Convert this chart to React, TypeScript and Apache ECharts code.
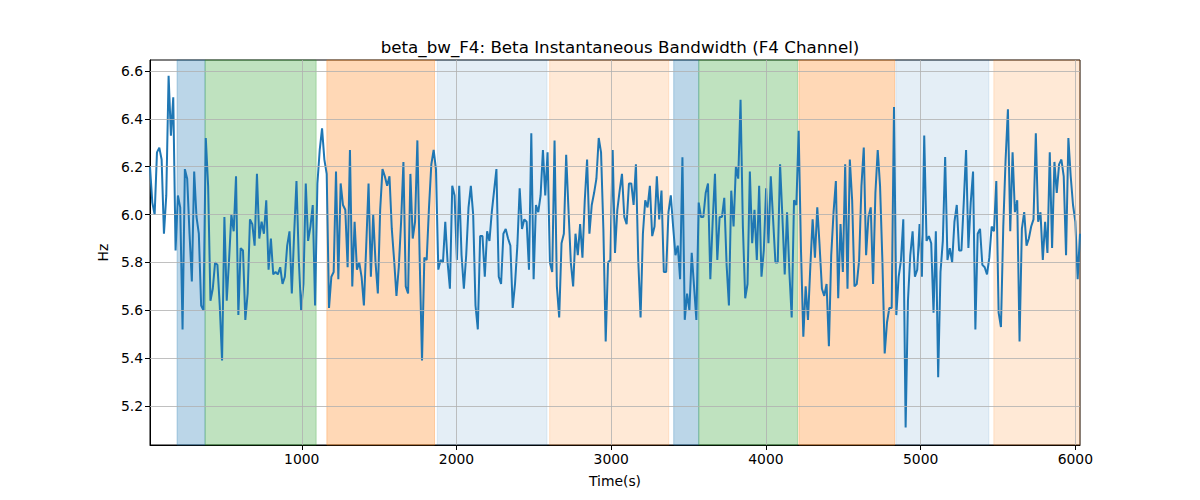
import React, { useEffect, useRef } from "react";
import * as echarts from "echarts";

const TITLE = "beta_bw_F4: Beta Instantaneous Bandwidth (F4 Channel)";
const TIME_START = 19;
const TIME_END = 6030;
const Y_MIN = 5.037;
const Y_MAX = 6.646;

const xTicks = [1000, 2000, 3000, 4000, 5000, 6000];
const yTicks = [5.2, 5.4, 5.6, 5.8, 6.0, 6.2, 6.4, 6.6];

const bandStarts = [194, 375, 1162, 1876, 2602, 3404, 3566, 4213, 4840, 5473];
const bandEnds = [375, 1093, 1858, 2585, 3372, 3566, 4204, 4832, 5441, 6030];
const bandColors = [
  "rgba(31,119,180,0.3)",
  "rgba(44,160,44,0.3)",
  "rgba(255,127,14,0.3)",
  "rgba(31,119,180,0.12)",
  "rgba(255,127,14,0.17)",
  "rgba(31,119,180,0.3)",
  "rgba(44,160,44,0.3)",
  "rgba(255,127,14,0.3)",
  "rgba(31,119,180,0.12)",
  "rgba(255,127,14,0.17)",
];

const bandwidth = [
  6.2, 6.05, 6.0, 6.26, 6.28, 6.23, 5.92, 6.08, 6.58, 6.33,
  6.49, 5.85, 6.08, 6.03, 5.52, 6.19, 6.15, 5.92, 5.72, 6.18,
  5.99, 5.92, 5.62, 5.6, 6.32, 6.12, 5.64, 5.69, 5.8, 5.79,
  5.62, 5.39, 5.99, 5.64, 5.81, 6.0, 5.93, 6.16, 5.58, 5.86,
  5.85, 5.56, 5.67, 5.98, 5.96, 5.87, 6.17, 5.9, 5.97, 5.92,
  6.06, 5.77, 5.9, 5.75, 5.76, 5.75, 5.78, 5.71, 5.74, 5.87,
  5.93, 5.67, 5.92, 6.14, 5.81, 5.6, 5.71, 6.13, 5.89, 5.95,
  6.04, 5.62, 6.13, 6.27, 6.36, 6.23, 6.17, 5.61, 5.74, 5.76,
  6.18, 5.73, 6.13, 6.04, 6.02, 5.78, 6.27, 5.7, 5.97, 5.77,
  5.8, 5.74, 5.62, 5.87, 6.13, 5.74, 6.0, 5.8, 5.67, 6.02,
  6.19, 6.16, 6.12, 6.16, 5.94, 5.81, 5.66, 5.78, 5.97, 6.22,
  5.7, 5.67, 6.17, 5.9, 5.97, 6.31, 5.81, 5.39, 5.82, 5.81,
  6.03, 6.21, 6.27, 6.19, 5.77, 5.81, 5.8, 5.97, 5.8, 5.69,
  6.12, 6.08, 5.81, 6.12, 5.83, 5.69, 5.83, 6.03, 6.12, 6.0,
  5.62, 5.52, 5.91, 5.91, 5.74, 5.93, 5.89, 6.01, 6.1, 6.19,
  5.74, 5.71, 5.92, 5.94, 5.9, 5.87, 5.61, 5.71, 5.87, 6.11,
  5.94, 5.98, 5.97, 5.77, 6.34, 5.73, 6.04, 6.01, 6.08, 6.27,
  6.08, 6.26, 5.8, 5.76, 6.31, 5.7, 5.57, 5.88, 5.92, 6.25,
  6.02, 5.8, 5.7, 5.92, 5.83, 5.96, 5.82, 6.06, 6.23, 5.92,
  6.04, 6.09, 6.15, 6.32, 6.26, 5.94, 5.47, 5.8, 5.81, 6.27,
  5.84, 6.02, 6.1, 6.17, 5.99, 5.96, 6.13, 6.13, 6.04, 6.21,
  5.81, 5.57, 5.92, 6.06, 6.03, 6.12, 5.91, 5.95, 6.16, 5.98,
  6.1, 5.76, 5.76, 6.01, 6.08, 5.95, 5.83, 5.87, 5.73, 6.24,
  5.56, 5.67, 5.6, 5.84, 5.7, 5.56, 6.05, 5.99, 5.99, 6.09,
  6.13, 5.73, 5.97, 6.17, 5.81, 5.99, 5.99, 6.07, 5.79, 5.62,
  6.1, 5.95, 6.2, 6.15, 6.48, 5.95, 5.65, 5.71, 6.18, 5.88,
  6.02, 5.81, 6.12, 5.74, 5.85, 6.11, 5.88, 6.16, 5.98, 5.8,
  5.8, 6.21, 5.99, 5.75, 6.01, 5.76, 5.57, 6.06, 6.04, 6.35,
  5.85, 5.49, 5.7, 5.56, 5.78, 5.98, 5.82, 6.03, 5.87, 5.69,
  5.66, 5.71, 5.45, 5.83, 6.01, 6.14, 5.65, 5.96, 5.76, 6.21,
  5.69, 6.23, 6.06, 5.7, 5.71, 5.81, 6.12, 6.28, 5.83, 5.99,
  6.03, 5.71, 6.09, 6.27, 6.12, 5.81, 5.42, 5.55, 5.61, 5.61,
  6.45, 5.58, 5.74, 5.81, 5.98, 5.11, 5.64, 5.83, 5.93, 5.74,
  5.77, 5.96, 5.74, 6.33, 5.89, 5.91, 5.88, 5.59, 5.93, 5.32,
  5.76, 5.89, 6.24, 5.81, 5.86, 5.8, 5.97, 6.04, 5.85, 5.85,
  6.05, 6.27, 5.86, 6.05, 6.18, 5.52, 5.92, 5.94, 5.79, 5.78,
  5.75, 5.82, 5.95, 5.93, 6.14, 5.59, 5.53, 5.95, 6.23, 6.44,
  5.93, 6.26, 6.01, 6.06, 5.47, 5.94, 6.01, 5.87, 5.9, 5.95,
  5.98, 6.34, 5.97, 6.01, 5.81, 5.97, 5.84, 6.26, 5.86, 6.22,
  6.09, 6.21, 6.23, 6.16, 5.83, 6.32, 6.16, 6.04, 5.97, 5.73,
  5.92,
];

const FONT = "DejaVu Sans";

export default function App() {
  const ref = useRef<HTMLDivElement>(null);

  useEffect(() => {
    if (!ref.current) return;
    const chart = echarts.init(ref.current, undefined, { renderer: "svg" });
    const step = (TIME_END - TIME_START) / (bandwidth.length - 1);
    const lineData = bandwidth.map((v, i) => [TIME_START + i * step, v]);

    const areas = bandStarts.map((s, i) => [
      {
        xAxis: s,
        itemStyle: { color: bandColors[i], borderColor: bandColors[i], borderWidth: 1 },
      },
      { xAxis: bandEnds[i] },
    ]);

    const gridLines = [
      ...yTicks.map((v) => ({ yAxis: v })),
      ...xTicks.map((v) => ({ xAxis: v })),
    ];

    chart.setOption({
      animation: false,
      title: {
        text: TITLE,
        left: 615,
        textAlign: "center",
        top: 33,
        textStyle: { fontFamily: FONT, fontSize: 16.7, fontWeight: "normal", color: "#000" },
      },
      grid: {
        left: 150,
        right: 120,
        top: 60,
        bottom: 55,
        show: true,
        borderColor: "#000",
        borderWidth: 1,
        backgroundColor: "transparent",
      },
      xAxis: {
        type: "value",
        min: TIME_START,
        max: TIME_END,
        name: "Time(s)",
        nameLocation: "middle",
        nameGap: 29,
        nameTextStyle: { fontFamily: FONT, fontSize: 13.9, color: "#000" },
        axisLine: { show: true, onZero: false, lineStyle: { color: "#000", width: 1 } },
        axisTick: { show: true, length: 5, lineStyle: { color: "#000" }, customValues: xTicks },
        axisLabel: {
          fontFamily: FONT,
          fontSize: 13.9,
          color: "#000",
          margin: 7,
          customValues: xTicks,
          formatter: (v: number) => String(Math.round(v)),
        },
        splitLine: { show: false },
      },
      yAxis: {
        type: "value",
        min: Y_MIN,
        max: Y_MAX,
        name: "Hz",
        nameLocation: "middle",
        nameGap: 37,
        nameTextStyle: { fontFamily: FONT, fontSize: 13.9, color: "#000" },
        axisLine: { show: true, onZero: false, lineStyle: { color: "#000", width: 1 } },
        axisTick: { show: true, length: 5, lineStyle: { color: "#000" }, customValues: yTicks },
        axisLabel: {
          fontFamily: FONT,
          fontSize: 13.9,
          color: "#000",
          margin: 7,
          customValues: yTicks,
          formatter: (v: number) => v.toFixed(1),
        },
        splitLine: { show: false },
      },
      series: [
        {
          type: "line",
          data: [],
          z: 1,
          silent: true,
          markArea: { silent: true, data: areas },
        },
        {
          type: "line",
          data: [],
          z: 2,
          silent: true,
          markLine: {
            silent: true,
            symbol: ["none", "none"],
            label: { show: false },
            lineStyle: { color: "#b0b0b0", width: 0.8, type: "solid" },
            data: gridLines,
          },
        },
        {
          type: "line",
          data: lineData,
          z: 3,
          showSymbol: false,
          symbol: "none",
          lineStyle: { color: "#1f77b4", width: 2 },
        },
      ],
    });
    return () => chart.dispose();
  }, []);

  return (
    <div
      ref={ref}
      style={{ position: "absolute", left: 0, top: 0, width: 1200, height: 500, background: "#fff" }}
    />
  );
}
